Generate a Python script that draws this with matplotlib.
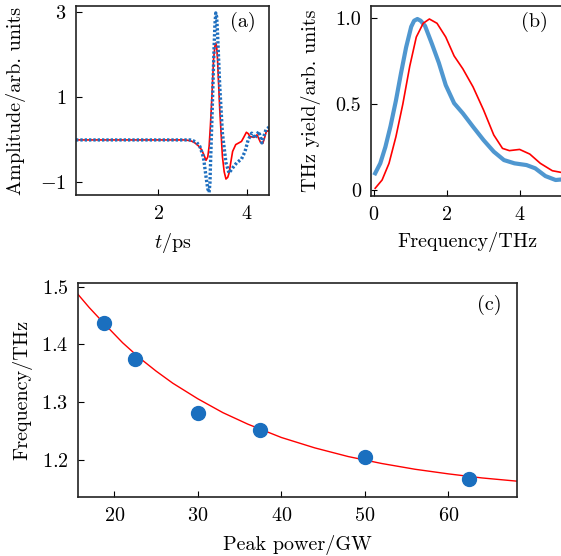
import matplotlib
matplotlib.use("Agg")
import matplotlib.pyplot as plt

plt.rcParams["font.family"] = "serif"
plt.rcParams["font.serif"] = ["cmr10"]
plt.rcParams["mathtext.fontset"] = "cm"
plt.rcParams["axes.formatter.use_mathtext"] = True
plt.rcParams["font.size"] = 14.5

# (a) time-domain waveforms
t_red = [0.15, 1.0, 2.0, 2.6, 2.68, 2.76, 2.83, 2.91, 2.98, 3.04, 3.08, 3.12, 3.15, 3.18,
         3.21, 3.25, 3.28, 3.30, 3.32, 3.34, 3.39, 3.45, 3.49, 3.53, 3.57, 3.60, 3.64, 3.68,
         3.75, 3.88, 3.94, 3.99, 4.03, 4.07, 4.16, 4.23, 4.31, 4.36, 4.40, 4.44, 4.5]
amp_red = [0, 0, 0, 0, -0.01, -0.03, -0.07, -0.14, -0.23, -0.37, -0.48, -0.4, -0.15, 0.35,
           0.95, 1.89, 2.2, 2.28, 2.2, 1.89, 0.71, -0.39, -0.75, -0.92, -0.88, -0.78, -0.52,
           -0.27, -0.11, -0.035, 0.08, 0.18, 0.15, 0.08, 0.06, 0.12, -0.06, -0.08, 0.05, 0.2, 0.22]
t_blue = [0.15, 1.0, 2.0, 2.72, 2.79, 2.87, 2.94, 3.0, 3.03, 3.09, 3.12, 3.15, 3.17, 3.18,
          3.22, 3.26, 3.28, 3.30, 3.32, 3.34, 3.39, 3.45, 3.53, 3.60, 3.68, 3.77, 3.88,
          3.96, 4.03, 4.11, 4.18, 4.27, 4.34, 4.43, 4.5]
amp_blue = [0, 0, 0, 0, -0.02, -0.06, -0.15, -0.33, -0.47, -0.94, -1.15, -1.235, -1.0, -0.62,
            0.71, 2.12, 2.7, 2.99, 2.9, 2.52, 1.26, 0.16, -0.54, -0.78, -0.66, -0.54, -0.45,
            -0.27, 0.0, 0.16, 0.04, 0.2, -0.07, 0.24, 0.3]

# (b) spectra
f_blue = [0.03, 0.17, 0.31, 0.45, 0.60, 0.74, 0.88, 1.02, 1.10, 1.19, 1.28, 1.40, 1.59,
          1.78, 1.97, 2.20, 2.44, 2.72, 3.01, 3.29, 3.57, 3.86, 4.19, 4.43, 4.71, 4.99, 5.2]
y_blue = [0.097, 0.155, 0.25, 0.37, 0.52, 0.68, 0.83, 0.95, 0.985, 0.995, 0.985, 0.955, 0.85,
          0.74, 0.61, 0.505, 0.446, 0.368, 0.29, 0.223, 0.174, 0.155, 0.145, 0.126, 0.081,
          0.058, 0.062]
f_red = [0.03, 0.22, 0.41, 0.60, 0.79, 0.98, 1.16, 1.35, 1.52, 1.73, 1.97, 2.20, 2.44, 2.72,
         3.01, 3.29, 3.53, 3.72, 4.0, 4.28, 4.57, 4.9, 5.2]
y_red = [0.01, 0.058, 0.155, 0.31, 0.50, 0.72, 0.89, 0.97, 0.995, 0.97, 0.89, 0.78, 0.705,
         0.60, 0.465, 0.32, 0.242, 0.229, 0.236, 0.209, 0.155, 0.112, 0.10]

# (c) peak frequency vs peak power
power = [18.75, 22.5, 30, 37.5, 50, 62.5]
freq = [1.438, 1.375, 1.281, 1.252, 1.205, 1.168]
fit_x = [15, 17, 19, 21, 23, 25, 27, 30, 33, 36, 40, 44, 48, 52, 56, 60, 64, 68.5]
fit_y = [1.498, 1.464, 1.433, 1.403, 1.377, 1.354, 1.333, 1.306, 1.282, 1.262, 1.239,
         1.221, 1.206, 1.194, 1.184, 1.176, 1.169, 1.163]

fig = plt.figure(figsize=(5.61, 5.56), dpi=100)
ax_a = fig.add_axes([0.1355, 0.649, 0.344, 0.34])
ax_b = fig.add_axes([0.661, 0.6475, 0.343, 0.3415])
ax_c = fig.add_axes([0.139, 0.1056, 0.7826, 0.385])

for ax in (ax_a, ax_b, ax_c):
    ax.tick_params(direction="in", length=4, top=False, right=False, pad=7)
    for s in ax.spines.values():
        s.set_linewidth(1.2)
        s.set_color("#222222")

ax_a.plot(t_red, amp_red, color="red", lw=1.2)
ax_a.plot(t_blue, amp_blue, color="#1f6fbf", lw=2.4, ls=(0, (0.7, 0.6)))
ax_a.set_xlim(0.15, 4.5)
ax_a.set_ylim(-1.3, 3.15)
ax_a.set_xticks([2, 4])
ax_a.set_yticks([-1, 1, 3])
ax_a.set_xlabel("$t$/ps", labelpad=6)
ax_a.set_ylabel("Amplitude/arb. units", labelpad=10)
ax_a.text(0.93, 0.915, "(a)", transform=ax_a.transAxes, ha="right", va="center")

ax_b.plot(f_blue, y_blue, color="#4f97d0", lw=3)
ax_b.plot(f_red, y_red, color="red", lw=1.2)
ax_b.set_xlim(-0.09, 5.2)
ax_b.set_ylim(-0.035, 1.07)
ax_b.set_xticks([0, 2, 4])
ax_b.set_yticks([0, 0.5, 1.0])
ax_b.set_yticklabels(["0", "0.5", "1.0"])
ax_b.set_xlabel("Frequency/THz", labelpad=6)
ax_b.set_ylabel("THz yield/arb. units", labelpad=10)
ax_b.text(0.92, 0.915, "(b)", transform=ax_b.transAxes, ha="right", va="center")

ax_c.plot(fit_x, fit_y, color="red", lw=1)
ax_c.plot(power, freq, "o", color="#1a6fbf", ms=10)
ax_c.set_xlim(15.66, 68.2)
ax_c.set_ylim(1.1355, 1.506)
ax_c.set_xticks([20, 30, 40, 50, 60])
ax_c.set_yticks([1.2, 1.3, 1.4, 1.5])
ax_c.set_xlabel("Peak power/GW", labelpad=7)
ax_c.set_ylabel("Frequency/THz", labelpad=6)
ax_c.text(0.965, 0.9, "(c)", transform=ax_c.transAxes, ha="right", va="center")

fig.savefig("out.png", dpi=100)
